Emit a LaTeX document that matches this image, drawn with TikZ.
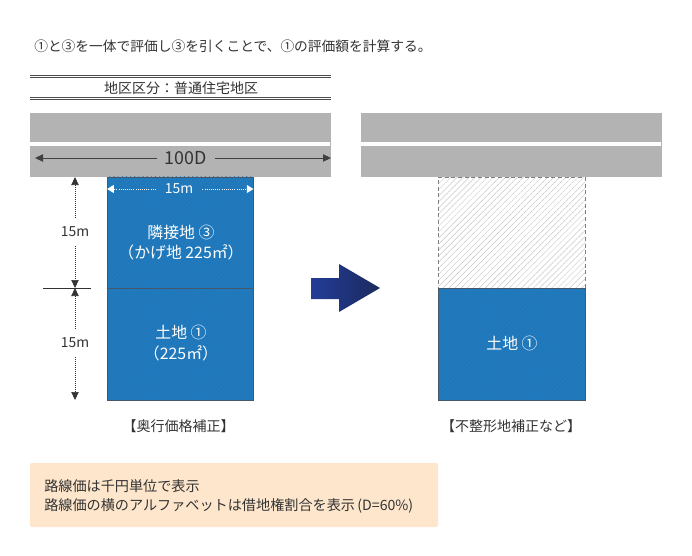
\documentclass[tikz,border=0pt]{standalone}
\usepackage{fontspec}
\setmainfont{Noto Sans CJK JP}
\usetikzlibrary{positioning}
\usetikzlibrary{arrows.meta}
\usetikzlibrary{patterns.meta}
\definecolor{roadColor}{HTML}{B3B3B3}
\definecolor{lotColor}{HTML}{1F7BBF}
\definecolor{lotHatch}{HTML}{2A70AE}
\definecolor{lotEdge}{HTML}{44586A}
\definecolor{inkColor}{HTML}{333333}
\definecolor{noteColor}{HTML}{FDE6CC}
\definecolor{arrowStart}{HTML}{233C97}
\definecolor{arrowEnd}{HTML}{1B2A5E}

\begin{document}
\begin{tikzpicture}[x=0.75pt,y=-0.75pt]

            \tikzstyle{plainText} = [text=inkColor, inner sep=0pt];
            \tikzstyle{roadBand} = [fill=roadColor, minimum width=225.75pt, minimum height=48pt, inner sep=0pt, outer sep=0pt];
            \tikzstyle{roadLine} = [white, line width=2.3pt, shorten >=0.8pt];
            \tikzstyle{lotBlue} = [draw=lotEdge, line width=0.5pt, preaction={fill=lotColor}, pattern={Lines[angle=45,distance=2.2pt,line width=0.35pt]}, pattern color=lotHatch, minimum width=109.7pt, inner sep=0pt, outer sep=0pt];
            \tikzstyle{lotEmpty} = [draw=gray, densely dashed, line width=0.5pt, pattern={Lines[angle=45,distance=3.2pt,line width=0.35pt]}, pattern color=black!22, minimum width=109.7pt, inner sep=0pt, outer sep=0pt];
            \tikzstyle{lotText} = [white, align=center, font=\fontsize{11.9pt}{15.6pt}\selectfont, inner sep=0pt];
            \tikzstyle{dimSmall} = [text=inkColor, font=\fontsize{10.4pt}{12pt}\selectfont, inner sep=0pt];
            \tikzstyle{dimEnd} = [inkColor, line width=0.5pt, densely dotted, -{Triangle[length=6pt,width=5.5pt]}];
            \tikzstyle{whiteEnd} = [white, line width=0.6pt, densely dotted, -{Triangle[length=5pt,width=6pt]}];
            \tikzstyle{roadEnd} = [black!75, line width=0.6pt, -{Triangle[length=6pt,width=5.5pt]}];
            \tikzstyle{bandRule} = [black!70, line width=0.6pt];
            \tikzstyle{captionText} = [text=inkColor, inner sep=0pt, font=\fontsize{10.5pt}{12pt}\selectfont];

            \useasboundingbox (0,0) rectangle (692,556);
            \fill[white] (0,0) rectangle (692,556);

            \node[plainText, anchor=west, font=\fontsize{10.3pt}{12pt}\selectfont] (heading) at (34,46) {①と③を一体で評価し③を引くことで、①の評価額を計算する。};

            % district band
            \coordinate (bandAL) at (30,76);
            \coordinate (bandAR) at (331,76);
            \coordinate (bandBL) at (30,98.5);
            \coordinate (bandBR) at (331,98.5);
            \draw[bandRule] ([yshift=0.7pt]bandAL) -- ([yshift=0.7pt]bandAR);
            \draw[bandRule] ([yshift=-0.7pt]bandAL) -- ([yshift=-0.7pt]bandAR);
            \draw[bandRule] ([yshift=0.7pt]bandBL) -- ([yshift=0.7pt]bandBR);
            \draw[bandRule] ([yshift=-0.7pt]bandBL) -- ([yshift=-0.7pt]bandBR);
            \node[captionText] (district) at (181,88) {地区区分\symbol{"FF1A}普通住宅地区};

            % roads
            \node[roadBand] (roadLeft) at (180.5,145) {};
            \node[roadBand] (roadRight) at (511.5,145) {};
            \draw[roadLine] ([yshift=0.75pt]roadLeft.west) -- ([yshift=0.75pt]roadLeft.east);
            \draw[roadLine] ([yshift=0.75pt]roadRight.west) -- ([yshift=0.75pt]roadRight.east);

            \node[text=inkColor, inner sep=0pt, font=\fontsize{13.4pt}{15pt}\selectfont] (roadWidth) at (186,158) {100D};
            \coordinate (roadWidthL) at (35,158);
            \coordinate (roadWidthR) at (331,158);
            \draw[roadEnd] (roadWidth.west) ++(-8,0) -- (roadWidthL);
            \draw[roadEnd] (roadWidth.east) ++(8,0) -- (roadWidthR);

            % left lot
            \node[lotBlue, minimum height=83.25pt] (lotUpper) at (180.3,232.5) {};
            \node[lotBlue, minimum height=84pt] (lotLower) at (180.3,344) {};
            \node[lotText] (lotUpperText) at (181,242.5) {隣接地 ③\\\symbol{"FF08}かげ地 225㎡\symbol{"FF09}};
            \node[lotText] (lotLowerText) at (181,343) {土地 ①\\\symbol{"FF08}225㎡\symbol{"FF09}};

            \node[text=white, inner sep=0pt, font=\fontsize{10.4pt}{12pt}\selectfont] (lotWidth) at (179,189) {15m};
            \draw[whiteEnd] (lotWidth.west) ++(-9,0) -- (lotUpper.west |- lotWidth);
            \draw[whiteEnd] (lotWidth.east) ++(9,0) -- (lotUpper.east |- lotWidth);

            % depth marks
            \coordinate (depthTop) at (75,177);
            \coordinate (depthMid) at (75,288);
            \coordinate (depthEnd) at (75,400);
            \coordinate (tickL) at (43,288);
            \coordinate (tickR) at (91,288);
            \draw[inkColor, line width=0.5pt] (tickL) -- (tickR);
            \node[dimSmall] (depthA) at (75,232) {15m};
            \node[dimSmall] (depthB) at (75,343) {15m};
            \draw[dimEnd] (depthA.north) ++(0,-9) -- (depthTop);
            \draw[dimEnd] (depthA.south) ++(0,9) -- (depthMid);
            \draw[dimEnd] (depthB.north) ++(0,-9) -- (depthMid);
            \draw[dimEnd] (depthB.south) ++(0,9) -- (depthEnd);

            % arrow between the lots
            \shade[left color=arrowStart, right color=arrowEnd] (311,278) -- (339,278) -- (339,264) -- (380,288) -- (339,312) -- (339,299) -- (311,299) -- cycle;

            % right lot
            \node[lotEmpty, minimum height=83.25pt] (lotGone) at (511.7,232.5) {};
            \node[lotBlue, minimum height=84pt] (lotKept) at (511.7,344) {};
            \node[lotText] (lotKeptText) at (512,343) {土地 ①};

            \node[captionText] (captionLeft) at (178.5,426) {【奥行価格補正】};
            \node[captionText] (captionRight) at (511,426) {【不整形地補正など】};

            % note
            \fill[noteColor, rounded corners=1.5pt] (30,463) rectangle (438,527);
            \node[plainText, anchor=west, align=left, font=\fontsize{10.6pt}{14.25pt}\selectfont] (noteText) at (44,496.5) {路線価は千円単位で表示\\路線価の横のアルファベットは借地権割合を表示\,(D=60\%)};

\end{tikzpicture}
\end{document}
